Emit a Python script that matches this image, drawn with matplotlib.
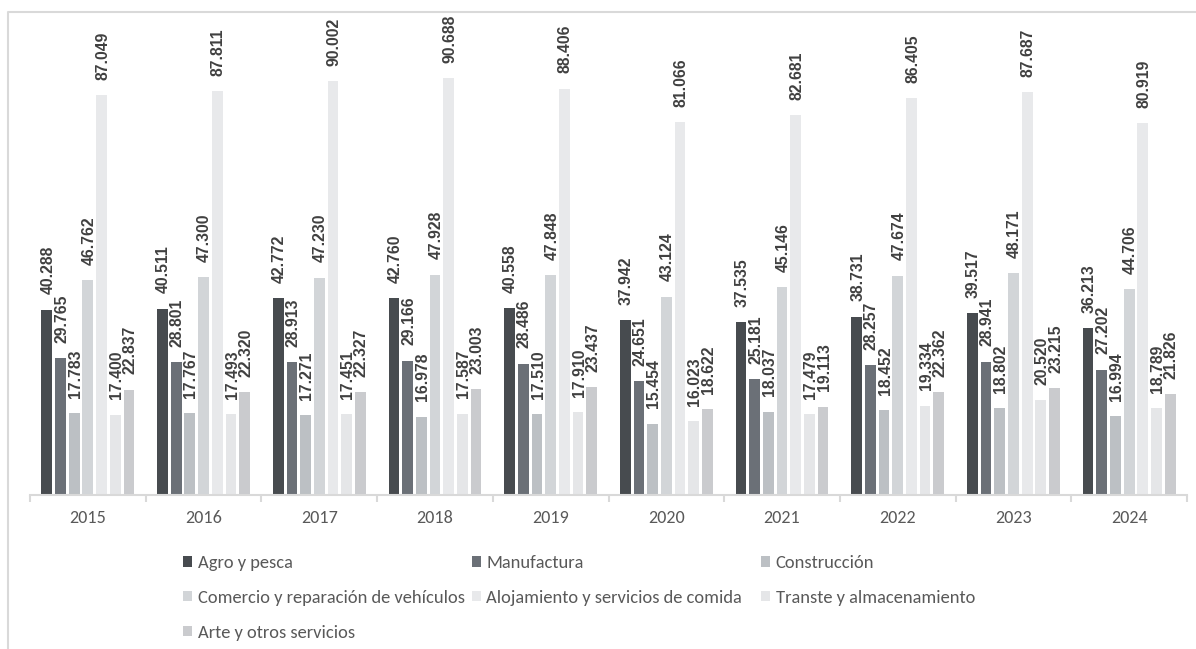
import matplotlib
matplotlib.use("Agg")
import matplotlib.pyplot as plt
from matplotlib.patches import Patch
from matplotlib.lines import Line2D
from matplotlib import font_manager as fm
import numpy as np

years = ["2015", "2016", "2017", "2018", "2019", "2020", "2021", "2022", "2023", "2024"]
series_names = [
    "Agro y pesca",
    "Manufactura",
    "Construcción",
    "Comercio y reparación de vehículos",
    "Alojamiento y servicios de comida",
    "Transte y almacenamiento",
    "Arte y otros servicios",
]
agro = [40.288, 40.511, 42.772, 42.760, 40.558, 37.942, 37.535, 38.731, 39.517, 36.213]
manufactura = [29.765, 28.801, 28.913, 29.166, 28.486, 24.651, 25.181, 28.257, 28.941, 27.202]
construccion = [17.783, 17.767, 17.271, 16.978, 17.510, 15.454, 18.037, 18.452, 18.802, 16.994]
comercio = [46.762, 47.300, 47.230, 47.928, 47.848, 43.124, 45.146, 47.674, 48.171, 44.706]
alojamiento = [87.049, 87.811, 90.002, 90.688, 88.406, 81.066, 82.681, 86.405, 87.687, 80.919]
transte = [17.400, 17.493, 17.451, 17.587, 17.910, 16.023, 17.479, 19.334, 20.520, 18.789]
arte = [22.837, 22.320, 22.327, 23.003, 23.437, 18.622, 19.113, 22.362, 23.215, 21.826]

series = [agro, manufactura, construccion, comercio, alojamiento, transte, arte]
colors = ["#474b4f", "#6b7077", "#bcc0c4", "#d2d5d8", "#e8e9eb", "#e5e6e8", "#cacbce"]

avail = {f.name for f in fm.fontManager.ttflist}
if "Carlito" in avail:
    txt_font = "Carlito"
    year_fs = 13.1
    leg_fs = 13.3
    row_h = 0.98
else:
    txt_font = "Liberation Sans"
    year_fs = 12
    leg_fs = 12.2
    row_h = 0.95
leg_px = leg_fs * 100 / 72

W, H = 1196, 649
fig = plt.figure(figsize=(W / 100, H / 100), dpi=100)
fig.patch.set_facecolor("white")

# chart frame (partially visible)
frame = Line2D([8 / W, 8 / W, 1.0], [0.0, 1 - 11.5 / H, 1 - 11.5 / H],
               transform=fig.transFigure, color="#d9d9d9", lw=1.5)
fig.add_artist(frame)

x0, x1 = 30, 1187
ybase, ytop = 494.5, 11.5
ax = fig.add_axes([x0 / W, 1 - ybase / H, (x1 - x0) / W, (ybase - ytop) / H])
ax.set_facecolor("none")

pitch = 0.1184
bw = 0.0925
x = np.arange(len(years))
n = len(series)
for i, (vals, c) in enumerate(zip(series, colors)):
    pos = x + (i - (n - 1) / 2) * pitch
    ax.bar(pos, vals, width=bw, color=c, zorder=2)
    for xp, v in zip(pos, vals):
        ax.annotate(f"{v:.3f}", (xp, v), xytext=(0.8, 11.0), textcoords="offset points",
                    rotation=90, ha="center", va="bottom", fontsize=11.3,
                    fontweight="bold", color="#404040", family="Liberation Sans")

ax.set_xlim(-0.5, len(years) - 0.5)
ax.set_ylim(0, (ybase - ytop) / 4.59)
for s in ["top", "right", "left"]:
    ax.spines[s].set_visible(False)
ax.spines["bottom"].set_color("#d9d9d9")
ax.spines["bottom"].set_linewidth(1.5)
ax.set_yticks([])
ax.set_xticks(x)
ax.set_xticklabels(years, fontsize=year_fs, color="#595959", family=txt_font)
ax.tick_params(axis="x", which="major", length=0, pad=11.5)
ax.set_xticks(np.arange(-0.5, len(years), 1.0), minor=True)
ax.tick_params(axis="x", which="minor", length=5, width=1.5, color="#d9d9d9")

# legend in three equal-width columns
handles = [Patch(facecolor=c, edgecolor="none") for c in colors]
cols = [[0, 3, 6], [1, 4], [2, 5]]
col_x = [183, 472, 761]
spacing = (37.0 - row_h * leg_px) / leg_px
top_y = 564 - row_h * leg_px / 2
for cx, idxs in zip(col_x, cols):
    leg = fig.legend([handles[k] for k in idxs], [series_names[k] for k in idxs],
                     loc="upper left", bbox_to_anchor=(cx / W, 1 - top_y / H),
                     bbox_transform=fig.transFigure, frameon=False,
                     borderpad=0, borderaxespad=0, handlelength=9 / leg_px,
                     handleheight=9 / leg_px, handletextpad=5.5 / leg_px,
                     labelspacing=spacing,
                     prop={"family": txt_font, "size": leg_fs})
    for t in leg.get_texts():
        t.set_color("#595959")

fig.savefig("out.png", dpi=100, facecolor="white")
